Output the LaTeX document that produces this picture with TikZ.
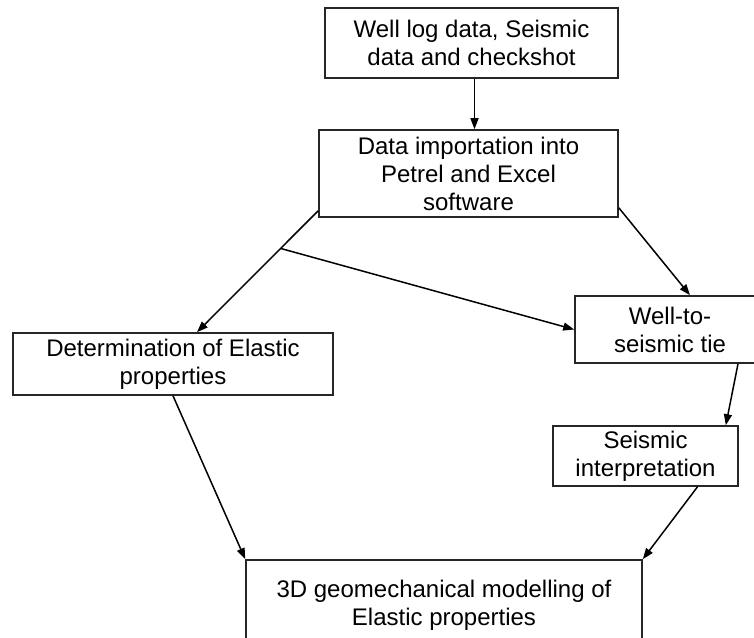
\documentclass[tikz,border=0pt]{standalone}
\usepackage{fontspec}
\setmainfont{Liberation Sans}
\usetikzlibrary{arrows.meta,calc}
\begin{document}
\begin{tikzpicture}[x=1pt,y=-1pt]
	\tikzstyle{box}=[draw=black!85, line width=1.6pt, align=center, inner sep=0pt, font=\fontsize{24}{28}\selectfont]
	\tikzstyle{flow}=[draw=black, line width=1.5pt, -{Triangle[length=11pt,width=8pt]}]
	\clip (0,0) rectangle (754,637);
	\useasboundingbox (0,0) rectangle (754,637);
	\node [box, minimum width=293pt, minimum height=70pt] (src) at (471.5,43) {Well log data, Seismic\\data and checkshot};
	\node [box, minimum width=299pt, minimum height=87pt] (imp) at (468.5,173.5) {Data importation into\\Petrel and Excel\\software};
	\node [box, minimum width=320pt, minimum height=62pt] (elastic) at (173,364) {Determination of Elastic\\properties};
	\node [box, minimum width=190pt, minimum height=67pt] (tie) at (670,329.5) {Well-to-\\seismic tie};
	\node [box, minimum width=185pt, minimum height=60pt] (interp) at (645.5,456) {Seismic\\interpretation};
	\node [box, minimum width=396pt, minimum height=90pt] (model) at (444,605) {3D geomechanical modelling of\\Elastic properties};
	\coordinate (split) at ($([yshift=7pt]imp.south west)!0.31!([xshift=24pt]elastic.north)$);
	\draw [flow] ([xshift=3pt]src.south) -- ([xshift=3pt]src.south |- imp.north);
	\draw [flow] ([yshift=7pt]imp.south west) -- ([xshift=24pt]elastic.north);
	\draw [flow] (split) -- (tie.west);
	\draw [flow] ([yshift=10pt]imp.south east) -- ([xshift=20pt]tie.north);
	\draw [flow] ([xshift=68pt]tie.south) -- ([xshift=-13pt]interp.north east);
	\draw [flow] (elastic.south) -- (model.north west);
	\draw [flow] ([xshift=52pt]interp.south) -- (model.north east);
\end{tikzpicture}
\end{document}
